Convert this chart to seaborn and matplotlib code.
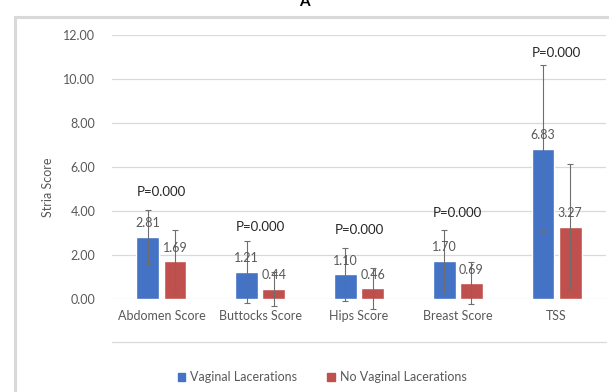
import numpy as np
import pandas as pd
import seaborn as sns
import matplotlib.pyplot as plt
from matplotlib.patches import Rectangle
from matplotlib.lines import Line2D

categories = ["Abdomen Score", "Buttocks Score", "Hips Score", "Breast Score", "TSS"]
groups = ["Vaginal Lacerations", "No Vaginal Lacerations"]
vl_mean = [2.81, 1.21, 1.10, 1.70, 6.83]
nvl_mean = [1.69, 0.44, 0.46, 0.69, 3.27]
vl_sd = [1.24, 1.40, 1.20, 1.44, 3.80]
nvl_sd = [1.44, 0.77, 0.92, 0.95, 2.85]
p_labels = ["P=0.000"] * 5
p_heights = [4.86, 3.27, 3.12, 3.90, 11.20]
yticks = [0, 2, 4, 6, 8, 10, 12]

colors = ["#4472C4", "#C0504D"]
grey = "#595959"
light = "#d9d9d9"

df = pd.DataFrame({
  "category": categories * 2,
  "group": [groups[0]] * 5 + [groups[1]] * 5,
  "score": vl_mean + nvl_mean,
  "sd": vl_sd + nvl_sd,
})

sns.set_theme(style="white")
plt.rcParams["font.family"] = ["Lato", "DejaVu Sans"]

fig = plt.figure(figsize=(6.09, 3.92), dpi=100)
W, H = 609, 392
ax = fig.add_axes([112 / W, 1 - 298.5 / H, 494 / W, (298.5 - 35) / H])

sns.barplot(data=df, x="category", y="score", hue="group", order=categories,
            hue_order=groups, palette=colors, errorbar=None, width=0.55, gap=0.16,
            saturation=1, legend=False, ax=ax)

# error bars + value labels, one bar at a time
bars = [p for p in ax.patches if p.get_height() > 0]
bars = sorted(bars, key=lambda p: p.get_x())
for b in bars:
  xc = b.get_x() + b.get_width() / 2
  h = b.get_height()
  row = df[np.isclose(df["score"], h)].iloc[0]
  ax.errorbar(xc, h, yerr=row["sd"], fmt="none", ecolor="#6e6e6e",
              elinewidth=0.8, capsize=2.5, capthick=0.8, clip_on=False, zorder=3)
  ax.text(xc, h + 0.35, "%.2f" % h, ha="center", va="bottom",
          fontsize=9, color=grey, zorder=4)

for i, (lbl, y) in enumerate(zip(p_labels, p_heights)):
  ax.text(i, y, lbl, ha="center", va="center", fontsize=9.5, color="#262626")

ax.set_ylim(0, 12)
ax.set_xlim(-0.5, 4.5)
ax.set_yticks(yticks)
ax.set_yticklabels(["%.2f" % t for t in yticks])
ax.yaxis.grid(True, color=light, lw=0.9)
ax.set_axisbelow(True)
for s in ax.spines.values():
  s.set_visible(False)
ax.tick_params(axis="both", length=0, colors=grey, labelsize=9)
ax.tick_params(axis="y", pad=12)
ax.tick_params(axis="x", pad=8)
ax.set_xlabel("")
ax.set_ylabel("")

fig.text(48 / W, 1 - 187 / H, "Stria Score", rotation=90, ha="center", va="center",
         fontsize=9, color=grey)

# chart frame, line under the axis area, title cut at top
fig.patches.append(Rectangle((15 / W, -0.05), 1.0, 1 - 17 / H + 0.05,
                             transform=fig.transFigure, fill=False,
                             edgecolor=light, lw=2.2))
fig.add_artist(Line2D([112 / W, 606 / W], [1 - 342 / H] * 2,
                      transform=fig.transFigure, color=light, lw=0.9))
fig.text(0.5, 1 - 2 / H, "A", ha="center", va="center", fontsize=11,
         fontweight="bold", color="black")

handles = [Rectangle((0, 0), 1, 1, color=c) for c in colors]
fig.legend(handles, groups, loc="center", bbox_to_anchor=(322 / W, 1 - 377 / H),
           ncol=2, frameon=False, fontsize=9, labelcolor=grey, handlelength=0.6,
           handleheight=0.6, handletextpad=0.4, columnspacing=2.4)

fig.savefig("out.png", dpi=100)
